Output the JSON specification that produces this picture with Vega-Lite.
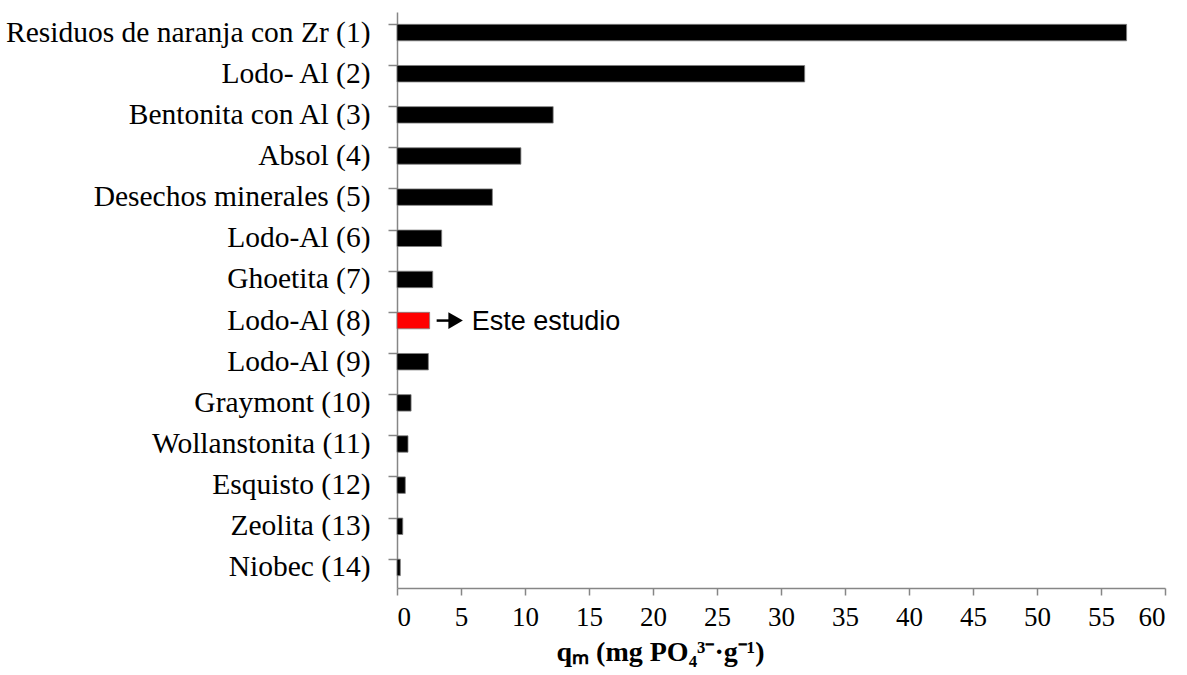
{
  "$schema": "https://vega.github.io/schema/vega-lite/v6.json",
  "autosize": "none",
  "width": 768,
  "height": 576,
  "padding": {"left": 397, "top": 12, "right": 22, "bottom": 87},
  "background": "white",
  "config": {"view": {"stroke": null}},
  "data": {
    "values": [
      {"material": "Residuos de naranja con Zr (1)", "qm": 57.0, "estudio": "no", "nota": ""},
      {"material": "Lodo- Al (2)", "qm": 31.85, "estudio": "no", "nota": ""},
      {"material": "Bentonita con Al (3)", "qm": 12.2, "estudio": "no", "nota": ""},
      {"material": "Absol (4)", "qm": 9.68, "estudio": "no", "nota": ""},
      {"material": "Desechos minerales (5)", "qm": 7.45, "estudio": "no", "nota": ""},
      {"material": "Lodo-Al (6)", "qm": 3.49, "estudio": "no", "nota": ""},
      {"material": "Ghoetita (7)", "qm": 2.79, "estudio": "no", "nota": ""},
      {"material": "Lodo-Al (8)", "qm": 2.55, "estudio": "si", "nota": "Este estudio"},
      {"material": "Lodo-Al (9)", "qm": 2.45, "estudio": "no", "nota": ""},
      {"material": "Graymont (10)", "qm": 1.1, "estudio": "no", "nota": ""},
      {"material": "Wollanstonita (11)", "qm": 0.86, "estudio": "no", "nota": ""},
      {"material": "Esquisto (12)", "qm": 0.65, "estudio": "no", "nota": ""},
      {"material": "Zeolita (13)", "qm": 0.45, "estudio": "no", "nota": ""},
      {"material": "Niobec (14)", "qm": 0.26, "estudio": "no", "nota": ""}
    ]
  },
  "encoding": {
    "y": {
      "field": "material",
      "type": "nominal",
      "sort": null,
      "scale": {"paddingInner": 0.6, "paddingOuter": 0.3},
      "axis": {
        "title": null,
        "bandPosition": 0,
        "domainColor": "#868686",
        "domainWidth": 1.5,
        "tickColor": "#868686",
        "tickWidth": 1.5,
        "tickSize": 9,
        "labelFont": "Liberation Serif",
        "labelFontSize": 29.5,
        "labelColor": "black",
        "labelPadding": 18,
        "labelLimit": 500
      }
    }
  },
  "layer": [
    {
      "mark": {"type": "bar", "stroke": "#7f7f7f", "strokeWidth": 0.8},
      "encoding": {
        "x": {
          "field": "qm",
          "type": "quantitative",
          "scale": {"domain": [0, 60], "nice": false},
          "axis": {
            "values": [0, 5, 10, 15, 20, 25, 30, 35, 40, 45, 50, 55, 60],
            "grid": false,
            "domainColor": "#868686",
            "domainWidth": 1.5,
            "tickColor": "#868686",
            "tickWidth": 1.5,
            "tickSize": 7,
            "labelFont": "Liberation Serif",
            "labelFontSize": 27,
            "labelColor": "black",
            "labelPadding": 9,
            "title": "qₘ (mg PO₄³⁻·g⁻¹)",
            "titleFont": "Liberation Serif",
            "titleFontSize": 28,
            "titleFontWeight": "bold",
            "titleColor": "black",
            "titleX": 263,
            "titleAnchor": "start",
            "titleAlign": "center",
            "titlePadding": 8
          }
        },
        "color": {
          "field": "estudio",
          "type": "nominal",
          "scale": {"domain": ["no", "si"], "range": ["black", "#ff0000"]},
          "legend": null
        }
      }
    },
    {
      "transform": [{"filter": "datum.nota != ''"}],
      "mark": {"type": "rule", "color": "black", "strokeWidth": 2.5, "xOffset": 7, "x2Offset": 20},
      "encoding": {
        "x": {"field": "qm", "type": "quantitative"},
        "x2": {"field": "qm"}
      }
    },
    {
      "transform": [{"filter": "datum.nota != ''"}],
      "mark": {"type": "point", "shape": "triangle-right", "filled": true, "color": "black", "opacity": 1, "size": 280, "xOffset": 26},
      "encoding": {
        "x": {"field": "qm", "type": "quantitative"}
      }
    },
    {
      "transform": [{"filter": "datum.nota != ''"}],
      "mark": {"type": "text", "align": "left", "baseline": "middle", "dx": 42, "dy": 1, "font": "Liberation Sans", "fontSize": 27, "color": "black"},
      "encoding": {
        "x": {"field": "qm", "type": "quantitative"},
        "text": {"field": "nota"}
      }
    }
  ]
}
